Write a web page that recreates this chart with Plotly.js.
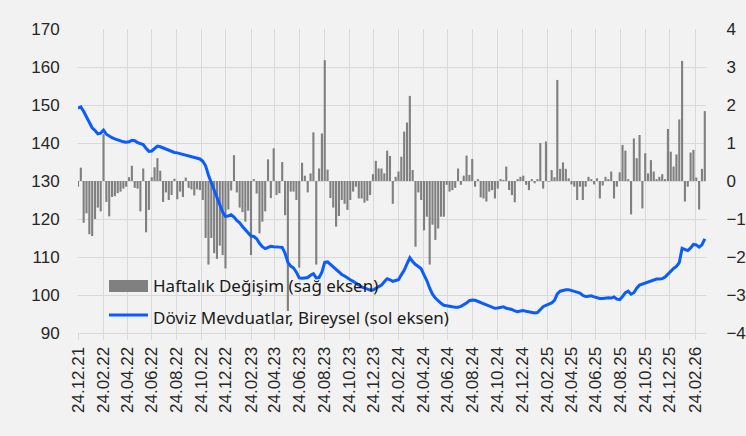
<!DOCTYPE html>
<html>
<head>
<meta charset="utf-8">
<script src="https://cdn.plot.ly/plotly-3.0.1.min.js"></script>
<style>
  html, body { margin: 0; padding: 0; background: #f2f2f2; }
  #chart { width: 746px; height: 436px; }
</style>
</head>
<body>
<div id="chart"></div>
<script>
// ---- data ----
const startDate = '2021-12-24'; // first weekly observation (Friday)

const tickLabels = ['24.12.21','24.02.22','24.04.22','24.06.22','24.08.22','24.10.22','24.12.22',
  '24.02.23','24.04.23','24.06.23','24.08.23','24.10.23','24.12.23','24.02.24','24.04.24','24.06.24',
  '24.08.24','24.10.24','24.12.24','24.02.25','24.04.25','24.06.25','24.08.25','24.10.25','24.12.25','24.02.26'];

const seriesNames = ['Haftalık Değişim (sağ eksen)', 'Döviz Mevduatlar, Bireysel (sol eksen)'];

// Haftalık Değişim (sağ eksen)
const weeklyChange = [
  -0.15, 0.35, -1.1, -0.85, -1.4, -1.45, -1.0, -0.7, -0.8, 1.23,
  -0.55, -0.93, -0.42, -0.4, -0.32, -0.28, -0.2, -0.15, 0.1, 0.4,
  -0.18, -0.2, -0.8, 0.33, -1.35, -0.76, 0.1, 0.36, 0.6, 0.27,
  -0.55, -0.3, -0.5, -0.37, 0.06, -0.48, -0.28, -0.42, 0.09, -0.18,
  -0.22, -0.38, -0.22, -0.24, -0.5, -1.5, -2.2, -1.5, -1.9, -2.05,
  -1.7, -1.95, -2.3, -0.75, -0.25, 0.68, -0.3, -0.7, -0.82, -1.07,
  -0.78, -1.95, 0.05, -0.33, -1.38, -1.07, -0.8, 0.57, -0.45, 0.86,
  -0.37, -0.32, 0.5, -0.9, -3.42, -0.28, -0.28, -0.5, -2.28, 0.48,
  0.14, -0.3, 0.2, 1.28, -2.2, 0.33, 1.25, 3.18, 0.3, -0.45,
  -0.7, -1.2, -0.92, -0.5, -0.6, -0.76, -0.5, -0.28, -0.15, -0.46,
  -0.46, -0.57, -0.52, -0.37, 0.18, 0.53, 0.33, 0.33, 0.2, 0.8,
  0.66, -0.6, 0.11, 0.25, 0.64, 1.3, 1.54, 2.24, 0.29, -1.73,
  -0.3, -0.5, -1.3, -0.94, -2.2, -1.15, -1.55, -1.25, -0.94, -0.94,
  -0.1, -0.28, -0.24, -0.18, 0.33, -0.1, 0.14, 0.67, 0.16, 0.58,
  -0.15, 0.05, -0.43, -0.46, -0.54, -0.28, -0.24, -0.46, -0.2, 0.05,
  0.03, 0.38, -0.24, -0.37, -0.56, 0.05, 0.11, 0.14, -0.1, -0.24,
  0.05, -0.06, 0.05, 1.0, -0.2, 1.04, -0.02, 0.29, 0.1, 2.66,
  0.32, 0.49, 0.32, 0.07, -0.09, -0.15, -0.5, -0.15, -0.5, -0.15,
  0.11, 0.05, -0.09, 0.07, -0.46, -0.12, 0.11, 0.05, 0.25, -0.46,
  -0.15, 0.23, 0.95, 0.8, 0.05, -0.88, 1.12, 0.6, 1.21, -0.72,
  0.73, 0.2, 0.55, 0.25, 0.05, 0.11, 0.18, 0.05, 1.37, 0.77,
  0.38, 0.7, 1.62, 3.16, -0.54, -0.15, 0.75, 0.82, 0.09, -0.75,
  0.32, 1.84
];

// Döviz Mevduatlar, Bireysel (sol eksen)
const fxDeposits = [
  149.2, 149.5, 148.3, 146.8, 145.2, 144.0, 143.3, 142.4, 142.6, 143.4,
  142.3, 141.8, 141.4, 141.1, 140.8, 140.5, 140.3, 140.2, 140.3, 140.7,
  140.6, 140.1, 139.9, 139.6, 138.6, 137.8, 137.9, 138.6, 139.2, 139.0,
  138.7, 138.2, 137.9, 137.6, 137.5, 137.4, 137.2, 137.1, 136.9, 136.8,
  136.6, 136.4, 136.2, 135.8, 135.2, 134.0, 131.5, 129.5, 127.4, 125.3,
  123.5, 121.8, 120.7, 120.8, 121.1, 120.5, 119.6, 119.0, 118.0, 117.2,
  116.2, 115.5, 115.4, 114.8, 113.6, 112.7, 112.2, 112.6, 112.8, 112.7,
  112.7, 112.6, 112.5, 111.0, 108.6, 107.6, 107.1, 106.0, 104.5, 104.4,
  104.5, 104.6, 105.2, 105.6, 104.5, 104.6, 106.0, 108.6, 108.7, 108.0,
  107.3, 106.6, 106.0, 105.4, 105.0, 104.4, 104.0, 103.6, 103.0, 102.6,
  102.1, 101.8, 101.5, 101.3, 101.3, 101.7, 102.2, 102.6, 103.5, 104.3,
  104.0, 103.6, 103.8, 104.0, 105.3, 106.5, 108.2, 109.8, 108.8, 108.0,
  107.5, 106.9, 105.3, 103.8, 101.8, 100.2, 99.2, 98.4, 97.8, 97.3,
  97.1, 96.9, 96.9, 96.8, 96.8, 97.0, 97.4, 97.9, 98.5, 98.7,
  98.6, 98.3, 97.9, 97.6, 97.2, 96.9, 96.7, 96.5, 96.6, 96.8,
  96.9, 96.5, 96.4, 96.2, 95.8, 95.6, 95.8, 95.9, 95.7, 95.5,
  95.5, 95.3, 95.4, 96.1, 96.9, 97.3, 97.6, 97.9, 98.6, 100.3,
  101.0, 101.3, 101.4, 101.4, 101.2, 101.0, 100.8, 100.5, 99.9, 99.6,
  99.7, 99.8, 99.5, 99.2, 99.1, 99.1, 99.2, 99.3, 99.2, 99.5,
  98.9, 98.8, 99.6, 100.6, 101.0, 100.2, 100.6, 101.8, 102.6, 102.9,
  103.1, 103.4, 103.8, 104.1, 104.2, 104.2, 104.3, 104.7, 105.5, 106.4,
  107.0, 107.5, 108.5, 112.3, 112.0, 111.7, 112.4, 113.3, 113.2, 112.6,
  113.2, 114.8
];

// ---- derived x values (weekly dates) ----
const t0 = Date.parse(startDate + 'T00:00:00Z');
const weeks = weeklyChange.map((_, i) => new Date(t0 + i * 7 * 86400000).toISOString().slice(0, 10));
const tickVals = tickLabels.map(s => { const p = s.split('.'); return '20' + p[2] + '-' + p[1] + '-' + p[0]; });

const tickFont = { family: 'Liberation Sans, Arial, sans-serif', size: 17, color: '#262626' };
const legendFont = { family: 'Noto Sans, Open Sans, sans-serif', size: 17, color: '#1a1a1a' };
const gridCol = '#d9d9d9';
const barCol = '#808080';
const lineCol = '#0a5cff';

const traces = [
  {
    type: 'bar', x: weeks, y: weeklyChange, yaxis: 'y',
    name: seriesNames[0], showlegend: false,
    marker: { color: barCol, line: { width: 0 } },
    hoverinfo: 'x+y'
  },
  {
    type: 'scatter', mode: 'lines', x: weeks, y: fxDeposits, yaxis: 'y2',
    name: seriesNames[1], showlegend: false,
    line: { color: lineCol, width: 3 },
    hoverinfo: 'x+y'
  }
];

// legend drawn as layout decorations (paper coordinates)
const shapes = [
  { type: 'rect', xref: 'paper', yref: 'paper', x0: 0.0494, x1: 0.1115, y0: 0.135, y1: 0.174,
    fillcolor: barCol, line: { width: 0 } },
  { type: 'line', xref: 'paper', yref: 'paper', x0: 0.0494, x1: 0.1115, y0: 0.059, y1: 0.059,
    line: { color: lineCol, width: 3 } }
];
const annotations = [
  { xref: 'paper', yref: 'paper', x: 0.117, y: 0.157, xanchor: 'left', yanchor: 'middle',
    text: seriesNames[0], showarrow: false, font: legendFont },
  { xref: 'paper', yref: 'paper', x: 0.117, y: 0.052, xanchor: 'left', yanchor: 'middle',
    text: seriesNames[1], showarrow: false, font: legendFont }
];

const layout = {
  width: 746, height: 436,
  paper_bgcolor: '#f2f2f2', plot_bgcolor: '#f2f2f2',
  margin: { l: 78, r: 40, t: 29, b: 103, pad: 0 },
  bargap: 0.25,
  showlegend: false,
  shapes: shapes,
  annotations: annotations,
  xaxis: {
    type: 'date', range: ['2021-12-24', '2026-03-23'],
    tickmode: 'array', tickvals: tickVals, ticktext: tickLabels,
    tickangle: -90, tickfont: tickFont,
    showgrid: true, gridcolor: gridCol, gridwidth: 1,
    ticks: 'outside', ticklen: 6, tickcolor: gridCol,
    showline: true, linecolor: gridCol, zeroline: false
  },
  yaxis: {
    side: 'right', range: [-4, 4], dtick: 1, tick0: 0,
    showgrid: false, zeroline: false, showline: false,
    tickfont: tickFont, ticks: 'outside', ticklen: 16, tickcolor: 'rgba(0,0,0,0)'
  },
  yaxis2: {
    overlaying: 'y', side: 'left', range: [90, 170], dtick: 10, tick0: 90,
    showgrid: true, gridcolor: gridCol, gridwidth: 1, zeroline: false, showline: false,
    tickfont: tickFont, ticks: 'outside', ticklen: 14, tickcolor: 'rgba(0,0,0,0)'
  }
};

Plotly.newPlot('chart', traces, layout, { displayModeBar: false, staticPlot: true });
</script>
</body>
</html>
